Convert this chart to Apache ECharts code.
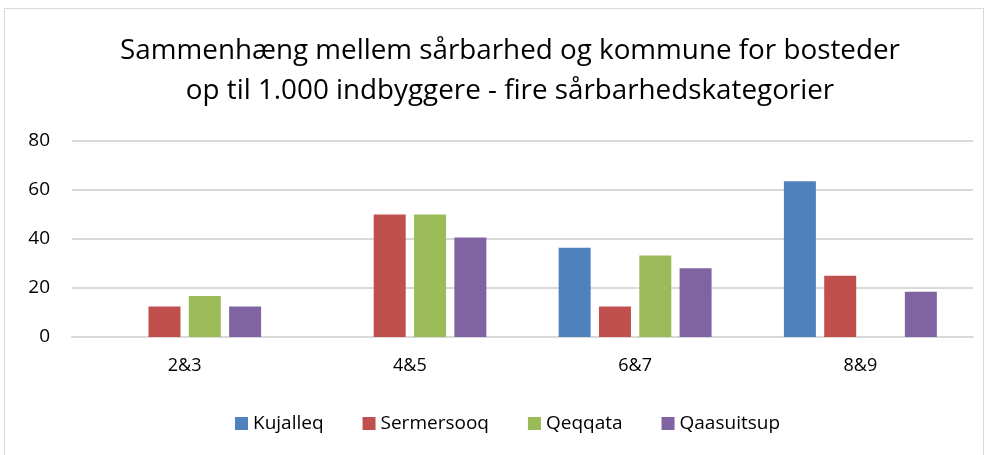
<!DOCTYPE html>
<html><head><meta charset="utf-8">
<script src="https://cdn.jsdelivr.net/npm/echarts@6/dist/echarts.min.js"></script>
<style>
html,body{margin:0;padding:0;background:#fff;}
#frame{position:absolute;left:4px;top:8px;width:980px;height:460px;border:1px solid #d9d9d9;box-sizing:border-box;}
#c{position:absolute;left:0;top:0;width:990px;height:455px;}
</style></head><body>
<div id="frame"></div>
<div id="c"></div>
<script>
const categories = ['2&3','4&5','6&7','8&9'];
const seriesNames = ['Kujalleq','Sermersooq','Qeqqata','Qaasuitsup'];
const kujalleq = [0, 0, 36.4, 63.6];
const sermersooq = [12.5, 50, 12.5, 25];
const qeqqata = [16.7, 50, 33.3, 0];
const qaasuitsup = [12.5, 40.6, 28.1, 18.5];
const yTicks = [0, 20, 40, 60, 80];
const colors = ['#4F81BD','#C0504D','#9BBB59','#8064A2'];
const values = [kujalleq, sermersooq, qeqqata, qaasuitsup];
const font = '"Open Sans", "Noto Sans", sans-serif';

const chart = echarts.init(document.getElementById('c'), null, {renderer:'canvas'});
chart.setOption({
  animation:false,
  color: colors,
  title: {
    text: 'Sammenhæng mellem sårbarhed og kommune for bosteder\nop til 1.000 indbyggere - fire sårbarhedskategorier',
    left: 505, textAlign: 'center', top: 26,
    textStyle: {fontFamily: font, fontSize: 27.8, fontWeight: 'normal', color: '#000', lineHeight: 40}
  },
  legend: {
    bottom: 17, left: 230, itemWidth: 13, itemHeight: 13, itemGap: 39,
    icon: 'rect',
    textStyle: {fontFamily: font, fontSize: 19, color: '#000'},
    data: seriesNames
  },
  grid: {left: 72, right: 17, top: 141, bottom: 118},
  xAxis: {
    type: 'category', data: categories,
    axisLine: {lineStyle: {color: '#d9d9d9', width: 2}},
    axisTick: {show: false},
    axisLabel: {fontFamily: font, fontSize: 18, color: '#000', margin: 20}
  },
  yAxis: {
    type: 'value', min: yTicks[0], max: yTicks[yTicks.length-1], interval: 20,
    axisLine: {show: false}, axisTick: {show: false},
    splitLine: {lineStyle: {color: '#d9d9d9', width: 2}},
    axisLabel: {fontFamily: font, fontSize: 19, color: '#000', margin: 22}
  },
  series: seriesNames.map((n, i) => ({
    name: n, type: 'bar', data: values[i],
    barWidth: 32, barGap: '26%',
    itemStyle: {color: colors[i]}
  }))
});
</script>
</body></html>
